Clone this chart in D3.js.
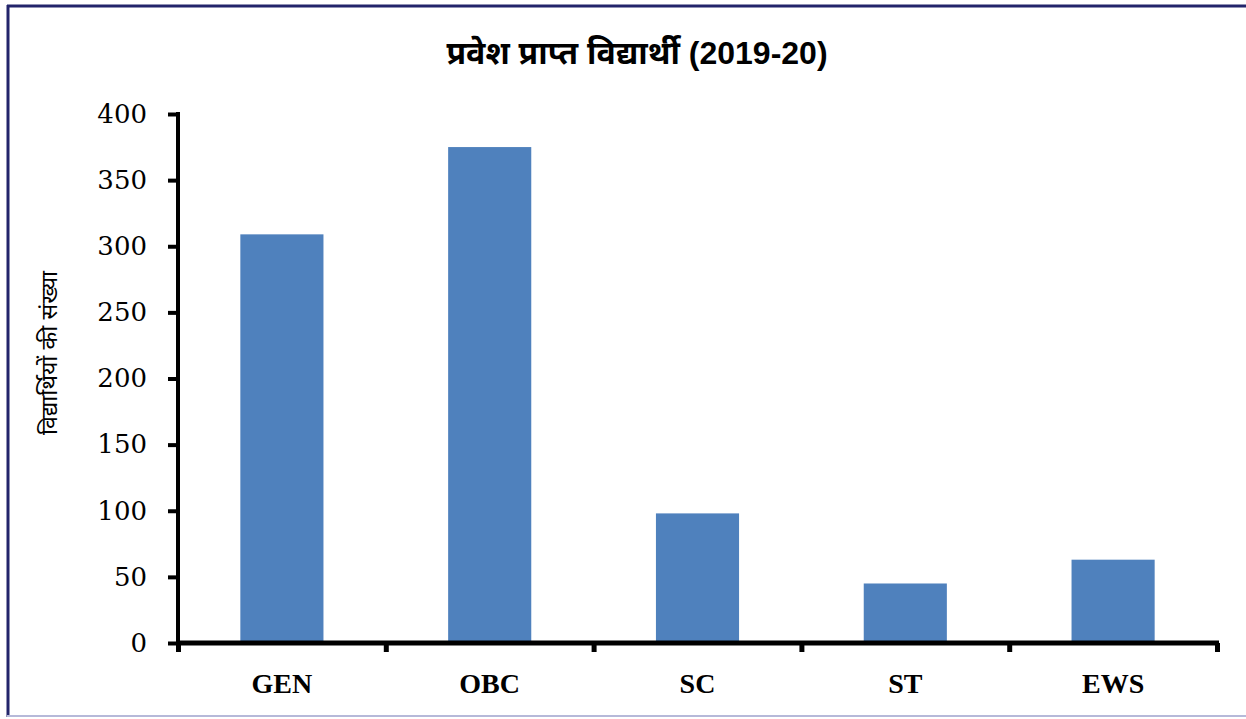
<!DOCTYPE html>
<html>
<head>
<meta charset="utf-8">
<script src="https://cdn.jsdelivr.net/npm/d3@7"></script>
<style>
  body { margin: 0; background: #fff; }
  svg { display: block; }
</style>
</head>
<body>
<div id="chart"></div>
<script>
// Data
const categories = ["GEN", "OBC", "SC", "ST", "EWS"];
const students = [309, 375, 98, 45, 63];
const yTicks = [0, 50, 100, 150, 200, 250, 300, 350, 400];
const titleText = "प्रवेश प्राप्त विद्यार्थी (2019-20)";
const yLabelText = "विद्यार्थियों की संख्या";

const W = 1246, H = 719;
const plot = { left: 178, right: 1217, top: 114, bottom: 643 };

const svg = d3.select("#chart").append("svg")
    .attr("width", W)
    .attr("height", H);

svg.append("rect").attr("width", W).attr("height", H).attr("fill", "#fff");

// Frame lines
svg.append("line").attr("x1", 7).attr("x2", W).attr("y1", 6).attr("y2", 6)
    .attr("stroke", "#23256b").attr("stroke-width", 3);
svg.append("line").attr("x1", 8).attr("x2", 8).attr("y1", 5).attr("y2", 717)
    .attr("stroke", "#23256b").attr("stroke-width", 3);
svg.append("line").attr("x1", 7).attr("x2", W).attr("y1", 716).attr("y2", 716)
    .attr("stroke", "#b6b9d9").attr("stroke-width", 2);

// Scales
const x = d3.scaleBand()
    .domain(categories)
    .range([plot.left, plot.right])
    .paddingInner(0.6)
    .paddingOuter(0.3);

const y = d3.scaleLinear()
    .domain([0, 400])
    .range([plot.bottom, plot.top]);

// Bars
svg.selectAll(".bar")
    .data(categories)
    .enter().append("rect")
    .attr("class", "bar")
    .attr("x", d => x(d))
    .attr("y", (d, i) => y(students[i]))
    .attr("width", x.bandwidth())
    .attr("height", (d, i) => y(0) - y(students[i]))
    .attr("fill", "#4f81bd");

// Y axis
const yAxis = svg.append("g")
    .attr("transform", `translate(${plot.left},0)`)
    .call(d3.axisLeft(y).tickValues(yTicks).tickSize(10).tickPadding(21).tickFormat(d3.format("d")));
yAxis.select(".domain").attr("stroke", "#000").attr("stroke-width", 4)
    .attr("d", `M0,${plot.top - 2}V${plot.bottom + 2}`);
yAxis.selectAll(".tick line").attr("stroke", "#000").attr("stroke-width", 4);
yAxis.selectAll(".tick text")
    .attr("fill", "#000")
    .style("font-family", "'DejaVu Serif', serif")
    .style("font-size", "26px");

// X axis with ticks at category boundaries
const xb = d3.scaleLinear().domain([0, categories.length]).range([plot.left, plot.right]);
const xAxis = svg.append("g")
    .attr("transform", `translate(0,${plot.bottom})`)
    .call(d3.axisBottom(xb).ticks(categories.length).tickSize(9).tickFormat(""));
xAxis.select(".domain").attr("stroke", "#000").attr("stroke-width", 5)
    .attr("d", `M${plot.left - 2},0H${plot.right + 2}`);
xAxis.selectAll(".tick line").attr("stroke", "#000").attr("stroke-width", 5);

// X labels
svg.selectAll(".xlabel")
    .data(categories)
    .enter().append("text")
    .attr("x", d => x(d) + x.bandwidth() / 2)
    .attr("y", 693)
    .attr("text-anchor", "middle")
    .style("font-family", "'Liberation Serif', serif")
    .style("font-weight", "bold")
    .style("font-size", "28px")
    .text(d => d);

// Title
svg.append("text")
    .attr("x", 637)
    .attr("y", 64)
    .attr("text-anchor", "middle")
    .style("font-family", "'Liberation Sans', 'Noto Sans', sans-serif")
    .style("font-weight", "bold")
    .style("font-size", "32px")
    .text(titleText);

// Y label
svg.append("text")
    .attr("transform", "translate(57,353) rotate(-90)")
    .attr("text-anchor", "middle")
    .style("font-family", "'Liberation Sans', 'Noto Sans', sans-serif")
    .style("font-size", "23px")
    .text(yLabelText);
</script>
</body>
</html>
